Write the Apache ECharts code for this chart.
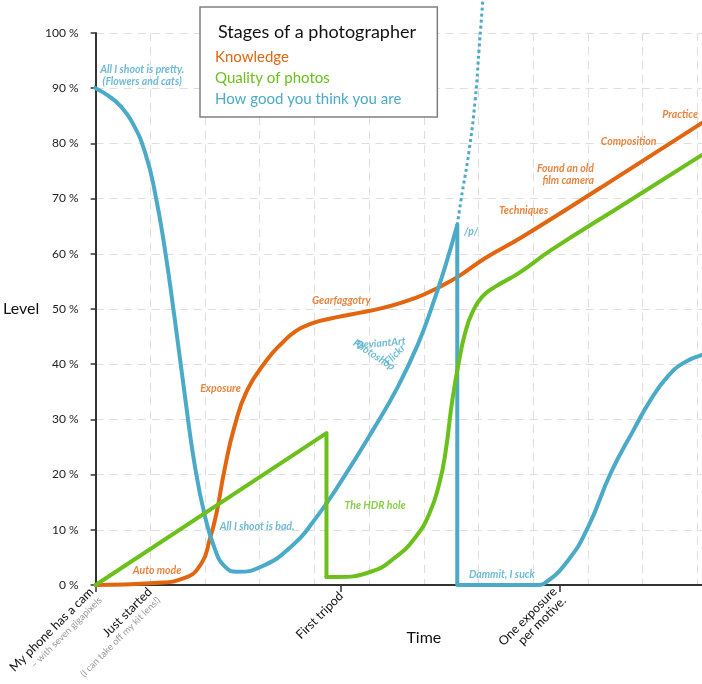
<!DOCTYPE html>
<html><head><meta charset="utf-8">
<script src="https://cdn.jsdelivr.net/npm/echarts@6/dist/echarts.min.js"></script>
<style>html,body{margin:0;padding:0;background:#fff}#c{width:702px;height:684px}</style>
</head><body><div id="c"></div>
<script>
// ---- data ----
const chartTitle = 'Stages of a photographer';
const seriesNames = ['Knowledge', 'Quality of photos', 'How good you think you are'];
const xAxisName = 'Time';
const yAxisName = 'Level';
const xMax = 11.087;

const xTickValues = [0, 1.07, 4.49, 8.48];
const xTickMain = ['My phone has a cam', 'Just started', 'First tripod', 'One exposure\nper motive.'];
const xTickNotes = ['– with seven gigapixels', '(I can take off my kit lens!)', '', ''];
const xTickMarks = [0, 4.49, 8.48];

const knowledge = [[0,0],[1.087,0.36],[1.630,1.27],[1.938,3.99],[2.083,8.15],[2.210,13.0],[2.355,20.8],[2.536,28.6],[2.772,35.3],[3.134,40.8],[3.406,43.8],[3.659,46.0],[3.931,47.3],[4.257,48.2],[4.710,49.1],[5.254,50.2],[5.851,52.0],[6.286,54.0],[6.649,56.0],[7.120,59.2],[7.790,63.0],[9.239,72.0],[11.087,83.7]];

const qualityTripod = [[0,0],[4.221,27.5],[4.221,1.45]];
const qualityRecovery = [[4.221,1.45],[4.402,1.45],[5.018,2.36],[5.489,5.07],[5.851,8.70],[6.105,13.0],[6.286,18.5],[6.395,23.9],[6.522,33.5],[6.649,40.8],[6.757,45.7],[6.884,49.3],[7.065,52.2],[7.301,54.0],[7.736,56.5],[8.333,60.7],[9.710,69.3],[11.087,77.9]];

const confidenceDreamStart = [[-0.996,99.3],[-0.851,96.6],[-0.670,94.6],[-0.417,92.8],[-0.181,91.1],[0,90]];
const confidenceFall = [[0,90],[0.236,88.6],[0.450,86.8],[0.670,83.8],[0.906,78.3],[1.087,71.0],[1.268,60.7],[1.449,48.0],[1.630,34.4],[1.812,21.7],[1.993,12.7],[2.174,6.7],[2.355,3.4],[2.591,2.4],[3.025,3.3],[3.569,6.9],[4.040,12.3],[4.529,19.4],[5.072,28.1],[5.525,35.9],[5.888,43.5],[6.159,50.7],[6.395,57.8],[6.612,65.2]];
const confidenceCrash = [[6.612,65.2],[6.612,0],[7.9,0]];
const confidenceRecovery = [[7.9,0],[8.098,0],[8.207,0.3],[8.641,4.5],[9.004,10.5],[9.420,20.3],[9.837,28.1],[10.145,33.5],[10.453,37.7],[10.743,40.2],[11.087,41.7]];
const confidenceDreamEnd = [[6.612,65.2],[6.68,69.7],[6.83,78.8],[6.94,87.9],[7.01,96.9],[7.08,106.0]];

// annotations: [x, y, text, group]
const annotations = [
  [0.851, 92.2, 'All I shoot is pretty.\n(Flowers and cats)', 2],
  [1.123, 2.54, 'Auto mode', 0],
  [2.283, 35.5, 'Exposure', 0],
  [2.953, 10.5, 'All I shoot is bad.', 2],
  [4.493, 51.6, 'Gearfaggotry', 0],
  [5.217, 43.8, 'DeviantArt', 2],
  [5.09, 41.7, 'Photoshop', 2],
  [5.47, 41.7, 'Flickr', 2],
  [5.109, 14.3, 'The HDR hole', 1],
  [6.866, 64.1, '/p/', 2],
  [7.428, 1.81, 'Dammit, I suck', 2],
  [7.826, 67.9, 'Techniques', 0],
  [9.112, 74.3, 'Found an old\nfilm camera', 0],
  [9.746, 80.3, 'Composition', 0],
  [10.688, 85.3, 'Practice', 0]
];

// ---- styling ----
const colors = ['#e2650f', '#6cc01c', '#4aaac8'];
const FONT = 'Lato, "Open Sans", sans-serif';
const labelRotation = { 'DeviantArt': 5, 'Photoshop': -33, 'Flickr': 45 };
const labelAlign = { 'Found an old\nfilm camera': 'right' };

function lineSeries(name, data, colorIdx, opts) {
  return Object.assign({
    name: name, type: 'line', data: data, xAxisIndex: 0, yAxisIndex: 0,
    showSymbol: false, symbol: 'none', smooth: 0.5,
    lineStyle: { color: colors[colorIdx], width: 4, cap: 'round', join: 'round' },
    itemStyle: { color: colors[colorIdx] },
    emphasis: { disabled: true }, silent: true, clip: false
  }, opts || {});
}
const dotted = (c) => ({ color: colors[c], width: 3, type: [3, 3], cap: 'butt' });

const chart = echarts.init(document.getElementById('c'), null, { renderer: 'canvas' });
chart.setOption({
  animation: false,
  backgroundColor: '#fff',
  textStyle: { fontFamily: FONT },
  title: {
    text: chartTitle, left: 213, top: 18, z: 10,
    textStyle: { fontFamily: FONT, fontSize: 18, fontWeight: 'normal', color: '#111' }
  },
  legend: {
    orient: 'vertical', left: 200, top: 7, z: 5,
    selectedMode: false, icon: 'rect', itemWidth: 0, itemHeight: 0, itemGap: 3,
    padding: [41, 36, 9, 10],
    backgroundColor: '#fff', borderColor: '#808080', borderWidth: 1.5,
    textStyle: { fontFamily: FONT, fontSize: 15, lineHeight: 18 },
    data: seriesNames.map((n, i) => ({ name: n, textStyle: { color: colors[i] } }))
  },
  grid: { left: 90, right: 0, top: 33, bottom: 99, containLabel: false },
  xAxis: [{
    type: 'value', min: 0, max: xMax, interval: 1,
    axisLine: { show: true, lineStyle: { color: '#333', width: 2 } },
    axisTick: { show: false }, axisLabel: { show: false },
    splitLine: { show: true, lineStyle: { color: '#dedede', width: 1, type: [8, 6] } },
    name: xAxisName, nameLocation: 'middle', nameGap: 45,
    nameTextStyle: { fontFamily: FONT, fontSize: 16, color: '#111', padding: [0, 0, 0, 50] }
  }, {
    type: 'value', min: 0, max: xMax, position: 'bottom',
    axisLine: { show: false }, splitLine: { show: false },
    axisTick: { show: true, customValues: xTickMarks, length: 7, lineStyle: { color: '#333', width: 1.5 } },
    axisLabel: {
      show: true, customValues: xTickValues, rotate: 45, margin: 9,
      formatter: function (v) {
        let i = xTickValues.findIndex(t => Math.abs(t - v) < 1e-6);
        if (i < 0) return '';
        let s = xTickMain[i].split('\n').map(l => '{m|' + l + '}').join('\n');
        if (xTickNotes[i]) s += '\n{n|' + xTickNotes[i] + '}';
        return s;
      },
      rich: {
        m: { fontFamily: FONT, fontSize: 12.5, color: '#111', lineHeight: 13 },
        n: { fontFamily: FONT, fontSize: 9.5, color: '#999', lineHeight: 12 }
      }
    }
  }],
  yAxis: {
    type: 'value', min: 0, max: 100, interval: 10,
    axisLine: { show: true, lineStyle: { color: '#333', width: 2 } },
    axisTick: { show: true, length: 5, lineStyle: { color: '#333', width: 1.5 } },
    axisLabel: { formatter: '{value} %', fontFamily: FONT, fontSize: 12, color: '#222', margin: 17 },
    splitLine: { show: true, lineStyle: { color: '#dedede', width: 1, type: [8, 6] } },
    name: yAxisName, nameLocation: 'middle', nameRotate: 0, nameGap: 55,
    nameTextStyle: { fontFamily: FONT, fontSize: 16, color: '#111' }
  },
  series: [
    lineSeries(seriesNames[0], knowledge, 0, { z: 3 }),
    lineSeries(seriesNames[2], confidenceFall, 2, { z: 4 }),
    lineSeries(seriesNames[2], confidenceCrash, 2, { smooth: false, z: 4 }),
    lineSeries(seriesNames[2], confidenceRecovery, 2, { z: 4 }),
    lineSeries('dream-start', confidenceDreamStart, 2, { lineStyle: dotted(2), z: 4 }),
    lineSeries('dream-end', confidenceDreamEnd, 2, { lineStyle: dotted(2), z: 4 }),
    lineSeries(seriesNames[1], qualityTripod, 1, { smooth: false, z: 5 }),
    lineSeries(seriesNames[1], qualityRecovery, 1, { z: 5 }),
    {
      type: 'scatter', xAxisIndex: 0, yAxisIndex: 0, symbolSize: 0, silent: true, z: 6,
      data: annotations.map(a => ({
        value: [a[0], a[1]],
        label: {
          show: true, position: 'inside', formatter: a[2],
          color: colors[a[3]], rotate: labelRotation[a[2]] || 0,
          align: labelAlign[a[2]] || 'center',
          fontFamily: FONT, fontStyle: 'italic', fontWeight: 'bold', fontSize: 10.5, lineHeight: 12
        }
      }))
    }
  ]
});
</script></body></html>
